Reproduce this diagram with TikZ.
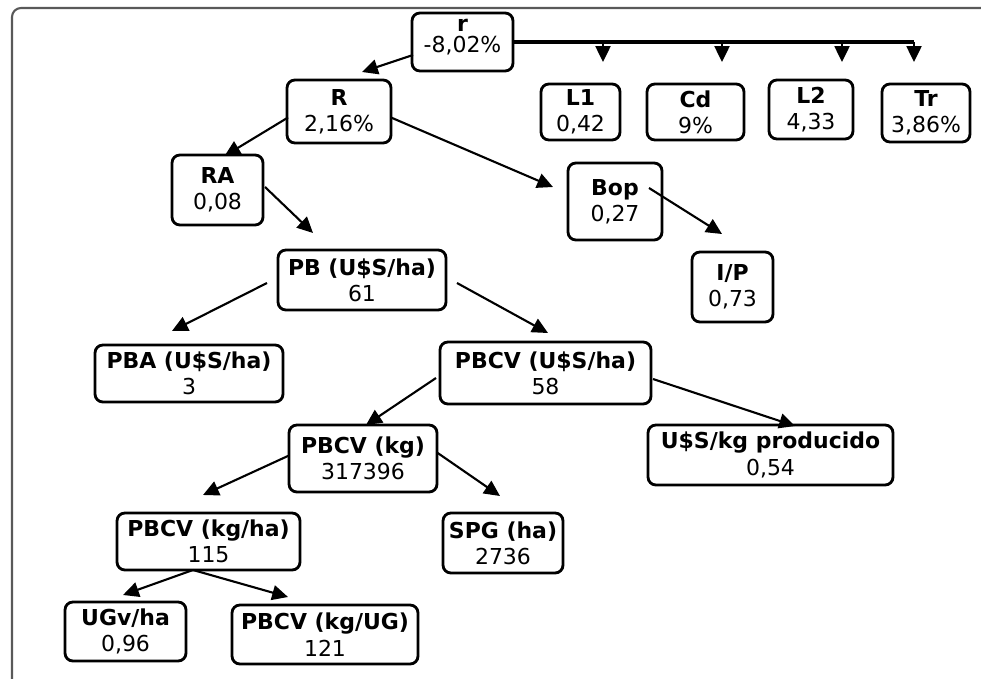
\documentclass[tikz,border=0pt]{standalone}
\usepackage{fontspec}
\setmainfont{DejaVu Sans}
\usetikzlibrary{arrows.meta,calc}
\newcommand\bxnode[7]{%
  \node[bx, minimum width={(#4-#2)*0.02cm}, minimum height={(#5-#3)*0.02cm}]
    (#1) at ({(#2+#4)/2},{(#3+#5)/2}) {\textbf{#6}\\[1pt]#7};}
\begin{document}
\begin{tikzpicture}[x=0.02cm, y=-0.02cm,
  bx/.style={draw, line width=1.6pt, rounded corners=4.5pt, align=center,
    inner sep=0pt, outer sep=0pt, font=\fontsize{12.5}{14}\selectfont},
  arr/.style={-{Triangle[length=9pt,width=8.5pt]}, line width=1.2pt},
  busline/.style={line width=2pt},
  framecol/.style={draw=black!65, line width=1.2pt}]
\useasboundingbox (0,0) rectangle (981,679);
% frame
\draw[framecol] (12,679) -- (12,17) to[out=90,in=180] (21,8) -- (981,8);
% nodes
\node[bx, minimum width={101*0.02cm}, minimum height={58*0.02cm}] (r) at (462.5,42)
  {\textbf{r}\\[-2pt]\raisebox{0pt}[\height][\dimexpr\depth+6pt]{-8,02\%}};
\bxnode{R}{287}{80}{391}{143}{R}{2,16\%}
\bxnode{L1}{541}{84}{620}{140}{L1}{0,42}
\bxnode{Cd}{647}{84}{744}{140}{Cd}{9\%}
\bxnode{L2}{769}{80}{853}{139}{L2}{4,33}
\bxnode{Tr}{882}{84}{970}{142}{Tr}{3,86\%}
\bxnode{RA}{172}{155}{263}{225}{RA}{0,08}
\bxnode{Bop}{568}{163}{662}{240}{Bop}{0,27}
\bxnode{IP}{692}{252}{773}{322}{I/P}{0,73}
\bxnode{PB}{278}{250}{446}{310}{PB (U\$S/ha)}{61}
\bxnode{PBA}{95}{345}{283}{402}{PBA (U\$S/ha)}{3}
\bxnode{PBCV}{440}{342}{651}{404}{PBCV (U\$S/ha)}{58}
\bxnode{USkg}{648}{425}{893}{485}{U\$S/kg producido}{0,54}
\bxnode{PBCVkg}{289}{425}{437}{492}{PBCV (kg)}{317396}
\bxnode{kgha}{117}{513}{300}{570}{PBCV (kg/ha)}{115}
\bxnode{SPG}{443}{513}{563}{573}{SPG (ha)}{2736}
\bxnode{UGv}{65}{602}{186}{661}{UGv/ha}{0,96}
\bxnode{kgUG}{232}{605}{418}{664}{PBCV (kg/UG)}{121}
% bus from r
\coordinate (l1top) at ($(L1.north)+(22.5,-22)$);
\coordinate (cdtop) at ($(Cd.north)+(26.5,-22)$);
\coordinate (l2top) at ($(L2.north)+(31,-18)$);
\coordinate (trtop) at ($(Tr.north)+(-12,-22)$);
\draw[busline] (r.east) -- (trtop |- r.east);
\draw[arr] (l1top |- r.east) -- (l1top);
\draw[arr] (cdtop |- r.east) -- (cdtop);
\draw[arr] (l2top |- r.east) -- (l2top);
\draw[arr] (trtop |- r.east) -- (trtop);
% connectors
\draw[arr] ($(r.west)+(1,13)$) -- ($(R.north)+(23,-8)$);
\draw[arr] ($(R.west)+(1,6)$) -- ($(RA.north)+(7,1)$);
\draw[arr] ($(R.east)+(0,6)$) -- ($(Bop.west)+(-15,-14.5)$);
\draw[arr] ($(RA.east)+(2,-3)$) -- ($(PB.north)+(-49,-17)$);
\draw[arr] ($(Bop.east)+(-13,-13.5)$) -- ($(IP.north)+(-10.5,-18)$);
\draw[arr] ($(PB.west)+(-11,3)$) -- ($(PBA.north)+(-17,-14)$);
\draw[arr] ($(PB.east)+(11,3)$) -- ($(PBCV.north)+(2.5,-9)$);
\draw[arr] ($(PBCV.west)+(-4,5)$) -- ($(PBCVkg.north)+(3,0)$);
\draw[arr] ($(PBCV.east)+(2,6)$) -- ($(USkg.north)+(24.5,1)$);
\draw[arr] ($(PBCVkg.west)+(0,-3)$) -- ($(kgha.north)+(-5.5,-18)$);
\draw[arr] ($(PBCVkg.east)+(0,-6)$) -- ($(SPG.north)+(-3,-17)$);
\draw[arr] ($(kgha.south)+(-15.5,0)$) -- ($(UGv.north)+(-2.5,-7)$);
\draw[arr] ($(kgha.south)+(-15.5,0)$) -- ($(kgUG.north)+(-37,-8)$);
\end{tikzpicture}
\end{document}
